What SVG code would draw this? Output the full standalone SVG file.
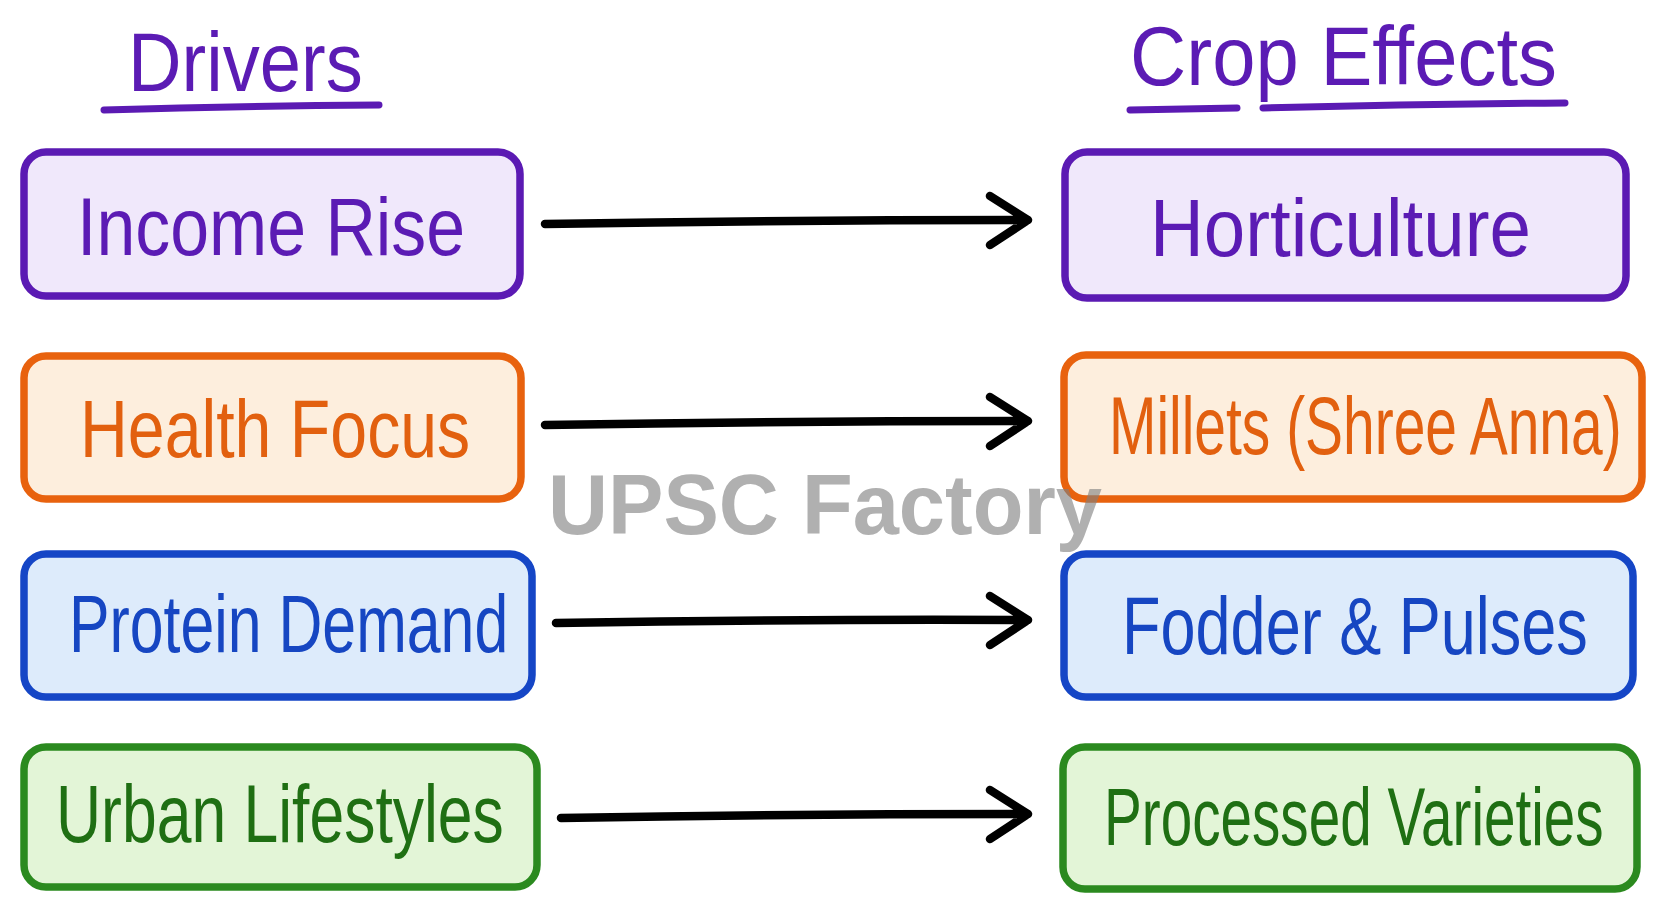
<svg xmlns="http://www.w3.org/2000/svg" width="1667" height="910" viewBox="0 0 1667 910">
<style>
.lbl{font-family:"Liberation Sans","Noto Sans",Arial,sans-serif;font-size:82px;}
.ttl{font-family:"Liberation Sans","Noto Sans",Arial,sans-serif;font-size:84px;fill:#5B1BB4;}
.box{stroke-width:7.5;stroke-linejoin:round;}
.p .box{fill:#F0E8FB;stroke:#5B1AB3;} .p text{fill:#5B1BB4;}
.o .box{fill:#FDEEDD;stroke:#E8620E;} .o text{fill:#E2600F;}
.b .box{fill:#DDEBFB;stroke:#1546C6;} .b text{fill:#1646C2;}
.g .box{fill:#E3F5D7;stroke:#2B8A1F;} .g text{fill:#1F6F13;}
.ul{fill:none;stroke:#5B1AB3;stroke-width:7;stroke-linecap:round;}
.arr{fill:none;stroke:#000;stroke-width:8.5;stroke-linecap:round;stroke-linejoin:round;}
.wm{font-family:"Liberation Sans","Noto Sans",Arial,sans-serif;font-weight:bold;font-size:86px;fill:#808080;fill-opacity:0.62;}
</style>
<rect width="1667" height="910" fill="#FFFFFF"/>
<g id="title-drivers">
<text class="ttl" transform="translate(128 91) scale(0.72 1)" textLength="326" lengthAdjust="spacingAndGlyphs">Drivers</text>
<path class="ul" d="M104 110 Q240 106 379 105"/>
</g>
<g id="title-effects">
<text class="ttl" transform="translate(1130 85) scale(0.72 1)" textLength="593" lengthAdjust="spacingAndGlyphs">Crop Effects</text>
<path class="ul" d="M1130 110 L1237 108 M1263 108 Q1415 104 1565 103"/>
</g>
<g id="income-rise" class="p">
<rect class="box" x="24" y="152" width="496" height="144" rx="22"/>
<text class="lbl" transform="translate(77 255) scale(0.72 1)" textLength="539" lengthAdjust="spacingAndGlyphs">Income Rise</text>
</g>
<g id="health-focus" class="o">
<rect class="box" x="24" y="356" width="497" height="143" rx="22"/>
<text class="lbl" transform="translate(80 457) scale(0.72 1)" textLength="542" lengthAdjust="spacingAndGlyphs">Health Focus</text>
</g>
<g id="protein-demand" class="b">
<rect class="box" x="24" y="554" width="508" height="143" rx="22"/>
<text class="lbl" transform="translate(69 652) scale(0.72 1)" textLength="610" lengthAdjust="spacingAndGlyphs">Protein Demand</text>
</g>
<g id="urban-lifestyles" class="g">
<rect class="box" x="24" y="747" width="513" height="140" rx="22"/>
<text class="lbl" transform="translate(56 842) scale(0.72 1)" textLength="622" lengthAdjust="spacingAndGlyphs">Urban Lifestyles</text>
</g>
<g id="horticulture" class="p">
<rect class="box" x="1065" y="152" width="561" height="146" rx="22"/>
<text class="lbl" transform="translate(1150 256) scale(0.72 1)" textLength="529" lengthAdjust="spacingAndGlyphs">Horticulture</text>
</g>
<g id="millets" class="o">
<rect class="box" x="1064" y="355" width="578" height="144" rx="22"/>
<text class="lbl" transform="translate(1109 454) scale(0.72 1)" textLength="712" lengthAdjust="spacingAndGlyphs">Millets (Shree Anna)</text>
</g>
<g id="fodder-pulses" class="b">
<rect class="box" x="1064" y="554" width="569" height="143" rx="22"/>
<text class="lbl" transform="translate(1122 654) scale(0.72 1)" textLength="647" lengthAdjust="spacingAndGlyphs">Fodder &amp; Pulses</text>
</g>
<g id="processed-varieties" class="g">
<rect class="box" x="1063" y="747" width="574" height="142" rx="22"/>
<text class="lbl" transform="translate(1104 845) scale(0.72 1)" textLength="694" lengthAdjust="spacingAndGlyphs">Processed Varieties</text>
</g>
<g id="connectors">
<path class="arr" d="M545 224 Q786 220 1028 220 M990 196 L1028 220 L990 245"/>
<path class="arr" d="M545 425 Q786 421 1028 421 M990 397 L1028 421 L990 446"/>
<path class="arr" d="M556 623 Q792 619 1028 620 M990 596 L1028 620 L990 645"/>
<path class="arr" d="M561 818 Q794 814 1028 814 M990 790 L1028 814 L990 839"/>
</g>
<g id="watermark">
<text class="wm" x="548" y="534" textLength="554" lengthAdjust="spacingAndGlyphs">UPSC Factory</text>
</g>
</svg>
